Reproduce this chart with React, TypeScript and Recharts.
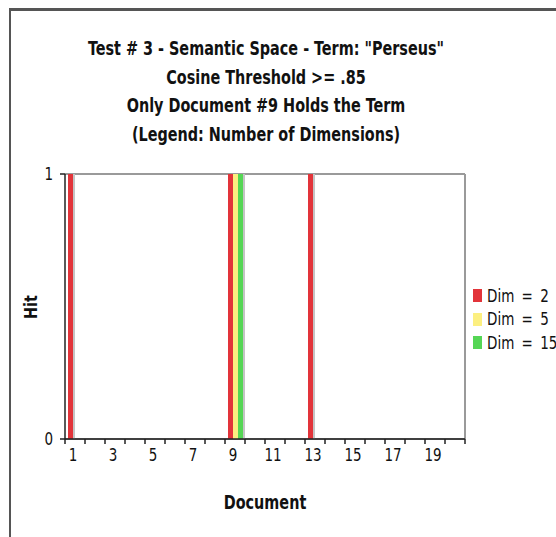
import React from 'react';
import { BarChart, Bar, XAxis, YAxis, CartesianGrid } from 'recharts';

const documents = ['1', '2', '3', '4', '5', '6', '7', '8', '9', '10', '11', '12', '13', '14', '15', '16', '17', '18', '19', '20'];
const dim2 = [1, 0, 0, 0, 0, 0, 0, 0, 1, 0, 0, 0, 1, 0, 0, 0, 0, 0, 0, 0];
const dim5 = [0, 0, 0, 0, 0, 0, 0, 0, 1, 0, 0, 0, 0, 0, 0, 0, 0, 0, 0, 0];
const dim15 = [0, 0, 0, 0, 0, 0, 0, 0, 1, 0, 0, 0, 0, 0, 0, 0, 0, 0, 0, 0];
const hitTicks = [0, 1];
const seriesNames = ['Dim = 2', 'Dim = 5', 'Dim = 15'];
const seriesColors = ['#e2343a', '#fcef80', '#55d655'];
const titleLines = [
  'Test # 3 - Semantic Space - Term: "Perseus"',
  'Cosine Threshold >= .85',
  'Only Document #9 Holds the Term',
  '(Legend: Number of Dimensions)',
];

const data = documents.map((doc, i) => ({ doc, d2: dim2[i], d5: dim5[i], d15: dim15[i] }));

const W = 556;
const H = 537;
const PLOT_LEFT = 65;
const PLOT_RIGHT = 465;
const PLOT_TOP = 174;
const BAND = (PLOT_RIGHT - PLOT_LEFT) / documents.length;

const font = '"DejaVu Sans Condensed", "DejaVu Sans", sans-serif';

// bar with a soft grey drop shadow to the right, like the old Excel export
const ShadowBar = (props: any) => {
  const { x, y, width, height, fill } = props;
  if (!height || height <= 0) return null;
  return (
    <g>
      <rect x={x + 2} y={y} width={width} height={height} fill="#c4c4c4" />
      <rect x={x} y={y} width={width} height={height} fill={fill} />
    </g>
  );
};

// tick marks sit on the band edges, labels only on odd documents
const DocTick = (props: any) => {
  const { x, y, payload, index } = props;
  const half = BAND / 2;
  return (
    <g>
      <line x1={x - half} x2={x - half} y1={y} y2={y + 5} stroke="#222" strokeWidth={1.5} />
      {index === documents.length - 1 && (
        <line x1={x + half} x2={x + half} y1={y} y2={y + 5} stroke="#222" strokeWidth={1.5} />
      )}
      {index % 2 === 0 && (
        <text transform={`translate(${x - 2}, ${y + 22}) scale(1, 1.2)`} textAnchor="middle" fontSize={15} fontFamily={font} fill="#111">
          {payload.value}
        </text>
      )}
    </g>
  );
};

const HitTick = (props: any) => {
  const { x, y, payload } = props;
  return (
    <text transform={`translate(${x}, ${y + 6}) scale(1, 1.2)`} textAnchor="end" fontSize={15} fontFamily={font} fill="#111">
      {payload.value}
    </text>
  );
};

const App: React.FC = () => {
  return (
    <div style={{ position: 'absolute', left: 0, top: 0, width: W, height: H, background: '#fff' }}>
      {/* frame */}
      <div style={{ position: 'absolute', left: 9, top: 8, width: W - 9, height: H - 8, borderLeft: '2px solid #555', borderTop: '3px solid #555', boxSizing: 'border-box' }} />

      {titleLines.map((line, i) => (
        <div
          key={i}
          style={{
            position: 'absolute',
            left: 266,
            top: 48 + i * 28.7,
            transform: 'translate(-50%, -50%) scaleY(1.2)',
            whiteSpace: 'nowrap',
            fontFamily: font,
            fontWeight: 'bold',
            fontSize: 16,
            color: '#111',
          }}
        >
          {line}
        </div>
      ))}

      <div style={{ position: 'absolute', left: 0, top: 0 }}>
        <BarChart
          width={W}
          height={H}
          data={data}
          margin={{ top: PLOT_TOP, right: W - PLOT_RIGHT, bottom: 68, left: 0 }}
          barCategoryGap="15%"
          barGap={0}
        >
          {/* grey frame on top and right of the plot */}
          <CartesianGrid
            stroke="#9a9a9a"
            strokeWidth={2}
            verticalCoordinatesGenerator={({ offset }: any) => [offset.left + offset.width]}
          />
          <XAxis
            dataKey="doc"
            interval={0}
            tickSize={0}
            tickMargin={0}
            tickLine={false}
            tick={<DocTick />}
            height={30}
            stroke="#222"
            strokeWidth={1.5}
          />
          <YAxis
            domain={[0, 1]}
            ticks={hitTicks}
            width={PLOT_LEFT}
            tickSize={5}
            tickMargin={7}
            tick={<HitTick />}
            stroke="#222"
            strokeWidth={1.5}
          />
          <Bar dataKey="d2" name={seriesNames[0]} fill={seriesColors[0]} shape={<ShadowBar />} isAnimationActive={false} />
          <Bar dataKey="d5" name={seriesNames[1]} fill={seriesColors[1]} shape={<ShadowBar />} isAnimationActive={false} />
          <Bar dataKey="d15" name={seriesNames[2]} fill={seriesColors[2]} shape={<ShadowBar />} isAnimationActive={false} />
        </BarChart>
      </div>

      {/* legend */}
      <div style={{ position: 'absolute', left: 473, top: 284, fontFamily: font, fontSize: 15, color: '#111' }}>
        {seriesNames.map((name, i) => (
          <div key={name} style={{ display: 'flex', alignItems: 'center', height: 23.5 }}>
            <span style={{ display: 'inline-block', width: 9, height: 13, background: seriesColors[i], marginRight: 5 }} />
            <span style={{ whiteSpace: 'pre', wordSpacing: 3, display: 'inline-block', transform: 'scaleY(1.15)' }}>{name}</span>
          </div>
        ))}
      </div>

      <div style={{ position: 'absolute', left: 31, top: 307, transform: 'translate(-50%, -50%) rotate(-90deg) scaleY(1.15)', fontFamily: font, fontWeight: 'bold', fontSize: 16, color: '#111' }}>
        Hit
      </div>
      <div style={{ position: 'absolute', left: 265, top: 502, transform: 'translate(-50%, -50%) scaleY(1.2)', fontFamily: font, fontWeight: 'bold', fontSize: 16, color: '#111' }}>
        Document
      </div>
    </div>
  );
};

export default App;
